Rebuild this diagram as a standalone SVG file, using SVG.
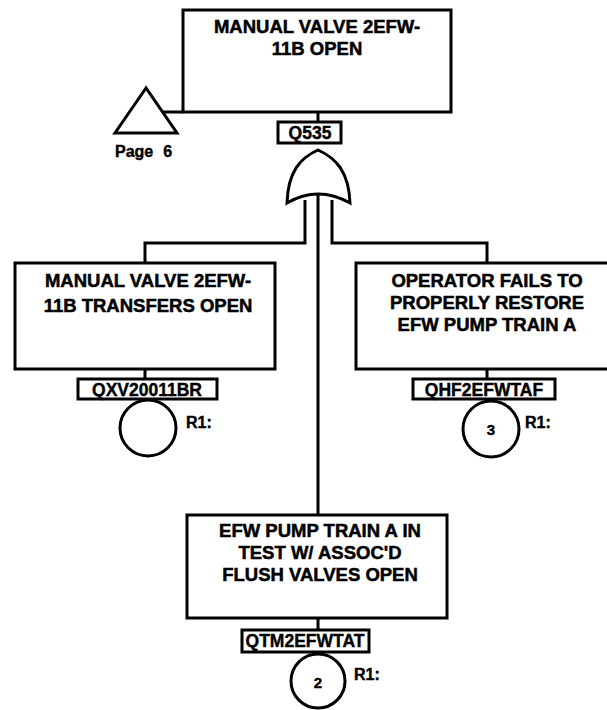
<svg xmlns="http://www.w3.org/2000/svg" width="607" height="710" viewBox="0 0 607 710">
<style>
.box{fill:#fff;stroke:#000;stroke-width:3}
.lbl{fill:#fff;stroke:#000;stroke-width:3}
.ln{fill:none;stroke:#000;stroke-width:3}
.t{font-family:"Liberation Sans",Arial,sans-serif;font-weight:bold;font-size:18.5px;text-anchor:middle;fill:#000;stroke:#000;stroke-width:0.5}
.c{font-family:"Liberation Sans",Arial,sans-serif;font-weight:bold;font-size:17.5px;text-anchor:middle;fill:#000;stroke:#000;stroke-width:0.4}
.s{font-family:"Liberation Sans",Arial,sans-serif;font-weight:bold;font-size:16px;fill:#000;stroke:#000;stroke-width:0.4}
.n{font-family:"Liberation Sans",Arial,sans-serif;font-weight:bold;font-size:15px;text-anchor:middle;fill:#000;stroke:#000;stroke-width:0.4}
</style>
<rect width="607" height="710" fill="#fff"/>
<g id="connectors">
<line class="ln" x1="162" y1="112" x2="183" y2="112"/>
<line class="ln" x1="318" y1="112" x2="318" y2="122"/>
<line class="ln" x1="318" y1="194" x2="318" y2="515"/>
<polyline class="ln" points="305,200 305,243 145,243 145,263"/>
<polyline class="ln" points="332,200 332,243 487,243 487,263"/>
<line class="ln" x1="145" y1="369" x2="145" y2="379"/>
<line class="ln" x1="487" y1="369" x2="487" y2="379"/>
<line class="ln" x1="318" y1="618" x2="318" y2="630"/>
<line class="ln" x1="147" y1="398" x2="147" y2="400"/>
</g>
<g id="transfer-page6">
<polygon class="ln" points="146,88 115,133 177,133" stroke-linejoin="miter"/>
<text class="s" x="115" y="157">Page<tspan dx="10">6</tspan></text>
</g>
<g id="top-event">
<rect class="box" x="183" y="10" width="268" height="102"/>
<text class="t" x="317" y="33">MANUAL VALVE 2EFW-</text>
<text class="t" x="317" y="55">11B OPEN</text>
<rect class="lbl" x="278" y="122" width="63" height="21"/>
<text class="c" x="310" y="139">Q535</text>
</g>
<g id="or-gate">
<path class="ln" d="M318,150 C300,158 288,172 287,203 Q318,185 350,203 C349,172 336,158 318,150 Z"/>
</g>
<g id="left-event">
<rect class="box" x="15" y="263" width="260" height="106"/>
<text class="t" x="148" y="287">MANUAL VALVE 2EFW-</text>
<text class="t" x="148" y="312">11B TRANSFERS OPEN</text>
<rect class="lbl" x="78" y="379" width="139" height="20"/>
<text class="c" x="147" y="396">QXV20011BR</text>
<circle class="ln" cx="148" cy="428" r="28"/>
<text class="s" x="186" y="428">R1:</text>
</g>
<g id="right-event">
<rect class="box" x="356" y="263" width="262" height="106"/>
<text class="t" x="487" y="287">OPERATOR FAILS TO</text>
<text class="t" x="487" y="309">PROPERLY RESTORE</text>
<text class="t" x="487" y="331">EFW PUMP TRAIN A</text>
<rect class="lbl" x="413" y="379" width="142" height="20"/>
<text class="c" x="484" y="396">QHF2EFWTAF</text>
<circle class="ln" cx="491" cy="429" r="28"/>
<text class="n" x="491" y="435">3</text>
<text class="s" x="525" y="428">R1:</text>
</g>
<g id="bottom-event">
<rect class="box" x="187" y="515" width="260" height="103"/>
<text class="t" x="320" y="537">EFW PUMP TRAIN A IN</text>
<text class="t" x="320" y="559">TEST W/ ASSOC'D</text>
<text class="t" x="320" y="581">FLUSH VALVES OPEN</text>
<rect class="lbl" x="242" y="630" width="127" height="22"/>
<text class="c" x="305" y="647">QTM2EFWTAT</text>
<circle class="ln" cx="318" cy="681" r="27"/>
<text class="n" x="318" y="688">2</text>
<text class="s" x="354" y="680">R1:</text>
</g>
</svg>
